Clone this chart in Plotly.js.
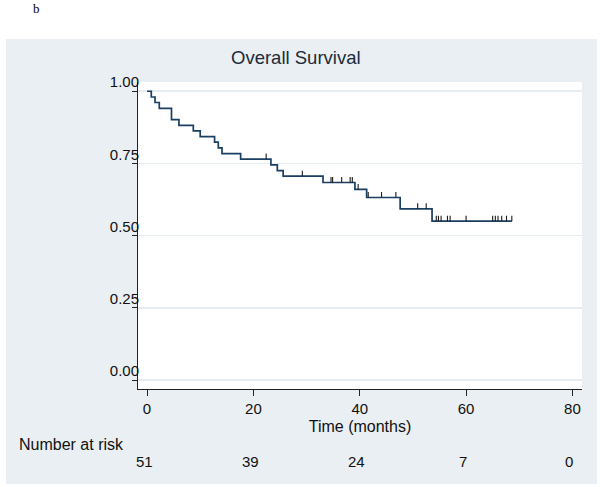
<!DOCTYPE html>
<html>
<head>
<meta charset="utf-8">
<script src="https://cdn.plot.ly/plotly-3.0.1.min.js"></script>
<style>html,body{margin:0;padding:0;background:#fff;}#chart{width:600px;height:487px;}</style>
</head>
<body>
<div id="chart"></div>
<script>
// Kaplan-Meier step values (time in months, survival after the step)
var stepTimes = [0, 0.8, 1.5, 2.3, 4.6, 6.0, 8.7, 10.0, 12.7, 13.4, 14.1, 17.6, 23.3, 24.5, 25.6, 33.1, 39.1, 41.3, 47.6, 53.6, 68.6];
var stepSurv  = [1.000, 0.980, 0.961, 0.941, 0.902, 0.882, 0.863, 0.843, 0.824, 0.804, 0.784, 0.765, 0.745, 0.725, 0.706, 0.684, 0.660, 0.632, 0.593, 0.550, 0.550];
// censored observations
var censTimes = [22.4, 29.2, 34.6, 34.9, 36.6, 38.2, 38.6, 39.7, 41.6, 44.1, 46.8, 50.9, 52.5, 54.4, 54.8, 55.3, 56.5, 57.0, 60.0, 65.0, 65.5, 66.0, 66.7, 67.6, 68.6];
var censSurv  = [0.765, 0.706, 0.684, 0.684, 0.684, 0.684, 0.684, 0.660, 0.632, 0.632, 0.632, 0.593, 0.593, 0.550, 0.550, 0.550, 0.550, 0.550, 0.550, 0.550, 0.550, 0.550, 0.550, 0.550, 0.550];
// number at risk table
var riskTimes = [0, 20, 40, 60, 80];
var riskN = [51, 39, 24, 7, 0];
var xTicks = [0, 20, 40, 60, 80];
var yTicks = [0, 0.25, 0.5, 0.75, 1];
var yTickText = ['0.00', '0.25', '0.50', '0.75', '1.00'];

var font = 'Liberation Sans, Arial, sans-serif';
var navy = '#1a3f63';

var traces = [
  {x: stepTimes, y: stepSurv, type: 'scatter', mode: 'lines', line: {shape: 'hv', color: navy, width: 1.7}, hoverinfo: 'skip'},
  {x: censTimes, y: censSurv, type: 'scatter', mode: 'markers', marker: {size: 0.1, color: 'rgba(0,0,0,0)'},
   error_y: {type: 'constant', value: 0.019, valueminus: 0, symmetric: false, width: 0, thickness: 1.1, color: '#1b1b1b'}, hoverinfo: 'skip'}
];

var annotations = [
  {text: 'b', xref: 'paper', yref: 'paper', x: -0.241, y: 1.238, xanchor: 'left', yanchor: 'middle', showarrow: false,
   font: {family: 'Liberation Serif, Times New Roman, serif', size: 13, color: '#000'}},
  {text: 'Number at risk', xref: 'paper', yref: 'paper', x: -0.273, y: -0.18, xanchor: 'left', yanchor: 'middle', showarrow: false,
   font: {family: font, size: 16, color: '#111'}}
];
for (var i = 0; i < riskTimes.length; i++) {
  annotations.push({text: String(riskN[i]), xref: 'x', yref: 'paper', x: riskTimes[i], xshift: -3, y: -0.235, yanchor: 'middle',
    showarrow: false, font: {family: font, size: 15, color: '#111'}});
}

var layout = {
  width: 600, height: 487,
  margin: {l: 138, r: 18, t: 82, b: 98},
  paper_bgcolor: '#ffffff', plot_bgcolor: '#ffffff',
  showlegend: false,
  title: {text: 'Overall Survival', xref: 'container', yref: 'container', x: 0.493, y: 0.882, xanchor: 'center', yanchor: 'middle',
    font: {family: font, size: 18.5, color: '#1c2a3a'}},
  xaxis: {range: [-1.7, 81.8], tickvals: xTicks, ticks: 'outside', ticklen: 6, tickcolor: '#222', showline: true, linecolor: '#222', linewidth: 1,
    showgrid: false, zeroline: false, tickfont: {family: font, size: 15, color: '#111'},
    title: {text: 'Time (months)', font: {family: font, size: 16, color: '#111'}, standoff: 4}},
  yaxis: {range: [-0.031, 1.032], tickvals: yTicks, ticktext: yTickText, ticks: 'outside', ticklen: 5, tickcolor: '#222', showline: true, linecolor: '#222', linewidth: 1,
    showgrid: true, gridcolor: '#e6eef1', gridwidth: 1.5, zeroline: false, tickfont: {family: font, size: 15, color: '#111'},
    ticklabelshift: -9, ticklabelstandoff: -10},
  shapes: [
    {type: 'rect', xref: 'paper', yref: 'paper', layer: 'below', x0: -0.2973, x1: 1.0338, y0: -0.3094, y1: 1.1401, fillcolor: '#e9eff2', line: {width: 0}},
    {type: 'rect', xref: 'paper', yref: 'paper', layer: 'below', x0: 0, x1: 1, y0: 0, y1: 1, fillcolor: '#ffffff', line: {width: 0}}
  ],
  annotations: annotations
};

Plotly.newPlot('chart', traces, layout, {displayModeBar: false, staticPlot: true});
</script>
</body>
</html>
